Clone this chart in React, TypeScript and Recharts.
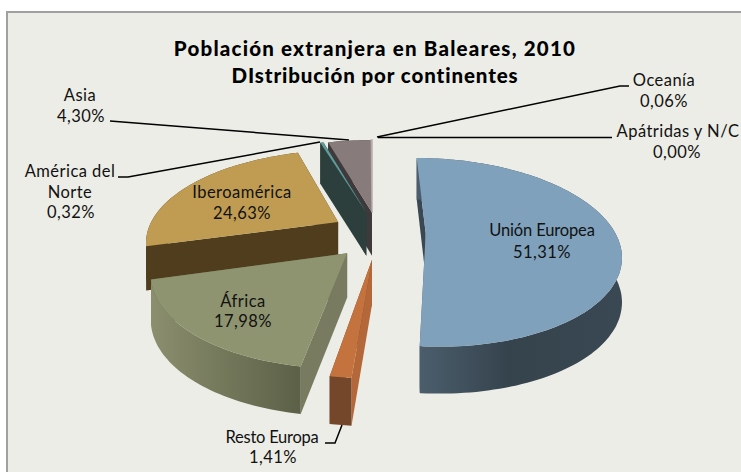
import React from 'react';
import { PieChart, Pie } from 'recharts';

const categories = ['Unión Europea', 'Resto Europa', 'África', 'Iberoamérica', 'América del Norte', 'Asia', 'Oceanía', 'Apátridas y N/C'];
const shares = [51.31, 1.41, 17.98, 24.63, 0.32, 4.30, 0.06, 0.00];

const pieData = categories.map((name, i) => ({ name, value: shares[i] }));

// back slices first, the explosion is kept per slice: offset x, offset y, radius, width factor
const drawOrder = ['Apátridas y N/C', 'Asia', 'Oceanía', 'América del Norte', 'Iberoamérica', 'África', 'Resto Europa', 'Unión Europea'];
const explode: Record<string, [number, number, number, number]> = {
  'Unión Europea': [54, 6, 203, 0.94],
  'Resto Europa': [0, -50, 190, 1],
  'África': [-24, -37, 190, 0.97],
  'Iberoamérica': [-35, 32, 203, 0.95],
  'América del Norte': [-6, 55, 215, 0.95],
  'Asia': [0, 55, 215, 0.95],
  'Oceanía': [0, 55, 215, 0.95],
  'Apátridas y N/C': [0, 55, 215, 0.95],
};
const looks: Record<string, { top: string; rim: string; start: string; end: string; line?: string }> = {
  'Unión Europea': { top: '#80a1bc', rim: 'url(#rimUE)', start: '#3a4853', end: '#4a5b69' },
  'Resto Europa': { top: '#c4733e', rim: '#75472a', start: '#b4683a', end: '#75472a' },
  'África': { top: '#8e946f', rim: 'url(#rimAfrica)', start: '#787b5f', end: '#5f6349' },
  'Iberoamérica': { top: '#bf9c52', rim: '#4f3d1e', start: '#4f3d1e', end: '#4f3d1e' },
  'América del Norte': { top: '#5f9b9a', rim: '#2c3f3d', start: '#2c3f3d', end: '#2c3f3d' },
  'Asia': { top: '#877b7b', rim: '#3e393b', start: '#3e393b', end: '#3e393b' },
  'Oceanía': { top: '#b5acac', rim: '#4a4547', start: '#4a4547', end: '#4a4547', line: '#b5acac' },
  'Apátridas y N/C': { top: '#b5acac', rim: '#4a4547', start: '#4a4547', end: '#4a4547' },
};

const labelLines = [
  '110,121 349,140',
  '118,177 128,177 320,142',
  '629,86 620,86 377,137',
  '612,137.5 378,137.5',
  '325,443 335,443 342,425',
];
const pct = (name: string) => shares[categories.indexOf(name)].toFixed(2).replace('.', ',') + '%';
const labelSpots: Record<string, [string, number, number, number?][]> = {
  'Asia': [['Asia', 80, 101], [pct('Asia'), 81, 122]],
  'América del Norte': [['América del', 70, 177], ['Norte', 70, 198], [pct('América del Norte'), 71, 218]],
  'Oceanía': [['Oceanía', 664, 86], [pct('Oceanía'), 664, 107]],
  'Apátridas y N/C': [['Apátridas y N/C', 678, 137], [pct('Apátridas y N/C'), 677, 158]],
  'Unión Europea': [['Unión Europea', 542, 236, -0.15], [pct('Unión Europea'), 542, 258]],
  'Iberoamérica': [['Iberoamérica', 242, 198], [pct('Iberoamérica'), 242, 219]],
  'África': [['África', 243, 307], [pct('África'), 243, 327]],
  'Resto Europa': [['Resto Europa', 272, 443, -0.25], [pct('Resto Europa'), 273, 463]],
};

const FONT = 'Lato, sans-serif';
const X0 = 372;
const Y0 = 236;
const TILT = 0.451;
const KAPPA = 0.001;

// ground plane to screen, the pie is seen in perspective
const project = (U: number, V: number, down: boolean): [number, number] => {
  const D = 1 + KAPPA * V;
  const drop = down ? 44 * Math.pow(D, -0.3) : 0;
  return [X0 + U / D, Y0 - (TILT * V) / D + drop];
};
const toPath = (pts: [number, number][]) =>
  'M' + pts.map((p) => p[0].toFixed(1) + ',' + p[1].toFixed(1)).join('L') + 'Z';

const Slice3D = (props: any) => {
  const { cx, cy, outerRadius, startAngle, endAngle } = props;
  const name = props.payload?.name ?? props.name;
  const look = looks[name];
  const widthFactor = explode[name][3];
  const a = 90 - Math.max(startAngle, endAngle);
  const b = 90 - Math.min(startAngle, endAngle);
  const ex = cx - X0;
  const ey = Y0 - cy;
  const at = (deg: number, down: boolean) => {
    const t = (deg * Math.PI) / 180;
    return project(ex + widthFactor * outerRadius * Math.sin(t), ey + outerRadius * Math.cos(t), down);
  };
  const steps: number[] = [];
  for (let d = a; d < b; d += 1.5) steps.push(d);
  steps.push(b);
  const centerTop = project(ex, ey, false);
  const centerLow = project(ex, ey, true);
  const startCut = toPath([centerTop, at(a, false), at(a, true), centerLow]);
  const endCut = toPath([centerTop, at(b, false), at(b, true), centerLow]);
  const rim = toPath([...steps.map((d) => at(d, false)), ...[...steps].reverse().map((d) => at(d, true))]);
  const top = toPath([centerTop, ...steps.map((d) => at(d, false))]);
  return (
    <g>
      <path d={endCut} fill={look.end} />
      <path d={startCut} fill={look.start} />
      <path d={rim} fill={look.rim} />
      <path d={top} fill={look.top} stroke={look.line ?? 'none'} strokeWidth={look.line ? 1.5 : 0} />
    </g>
  );
};

const onlySlice = (name: string) => (props: any) =>
  (props.payload?.name ?? props.name) === name ? <Slice3D {...props} /> : <g />;

// labels sit on top of the slices, so they go through the Pie label layer
const sliceLabel = (props: any) => {
  const name = props.payload?.name ?? props.name;
  return (
    <g>
      {(labelSpots[name] ?? []).map(([t, x, y, spacing]) => (
        <text key={t} x={x} y={y} textAnchor="middle" fontFamily={FONT} fontSize={16.5} letterSpacing={spacing ?? 0.45} fill="#111">
          {t}
        </text>
      ))}
    </g>
  );
};

export default function App() {
  return (
    <div style={{ position: 'absolute', left: 0, top: 0, width: 741, height: 472, background: '#fff' }}>
      <PieChart width={741} height={472} margin={{ top: 0, right: 0, bottom: 0, left: 0 }}>
        <defs>
          <linearGradient id="rimUE" x1="0" y1="0" x2="1" y2="0">
            <stop offset="0" stopColor="#4c5e6d" />
            <stop offset="0.45" stopColor="#35434d" />
            <stop offset="1" stopColor="#3a4853" />
          </linearGradient>
          <linearGradient id="rimAfrica" x1="0" y1="0" x2="1" y2="0">
            <stop offset="0" stopColor="#8b8f6e" />
            <stop offset="1" stopColor="#5c6047" />
          </linearGradient>
        </defs>
        <rect x={7} y={12} width={740} height={470} fill="#ecede6" stroke="#a0a0a0" strokeWidth={2} />
        {drawOrder.map((name, i) => {
          const [ex, ey, r] = explode[name];
          return (
            <Pie
              key={name}
              data={pieData}
              dataKey="value"
              nameKey="name"
              cx={X0 + ex}
              cy={Y0 - ey}
              outerRadius={r}
              startAngle={90}
              endAngle={-270}
              stroke="none"
              shape={onlySlice(name)}
              label={i === drawOrder.length - 1 ? sliceLabel : false}
              labelLine={false}
              isAnimationActive={false}
            />
          );
        })}
        {labelLines.map((pts) => (
          <polyline key={pts} points={pts} fill="none" stroke="#000" strokeWidth={1.5} />
        ))}
        <text x={375} y={56} textAnchor="middle" fontFamily={FONT} fontWeight={900} fontSize={20.5} letterSpacing={1.2} fill="#000">
          Población extranjera en Baleares, 2010
        </text>
        <text x={375} y={83} textAnchor="middle" fontFamily={FONT} fontWeight={900} fontSize={20.5} letterSpacing={0.9} fill="#000">
          DIstribución por continentes
        </text>
      </PieChart>
    </div>
  );
}
